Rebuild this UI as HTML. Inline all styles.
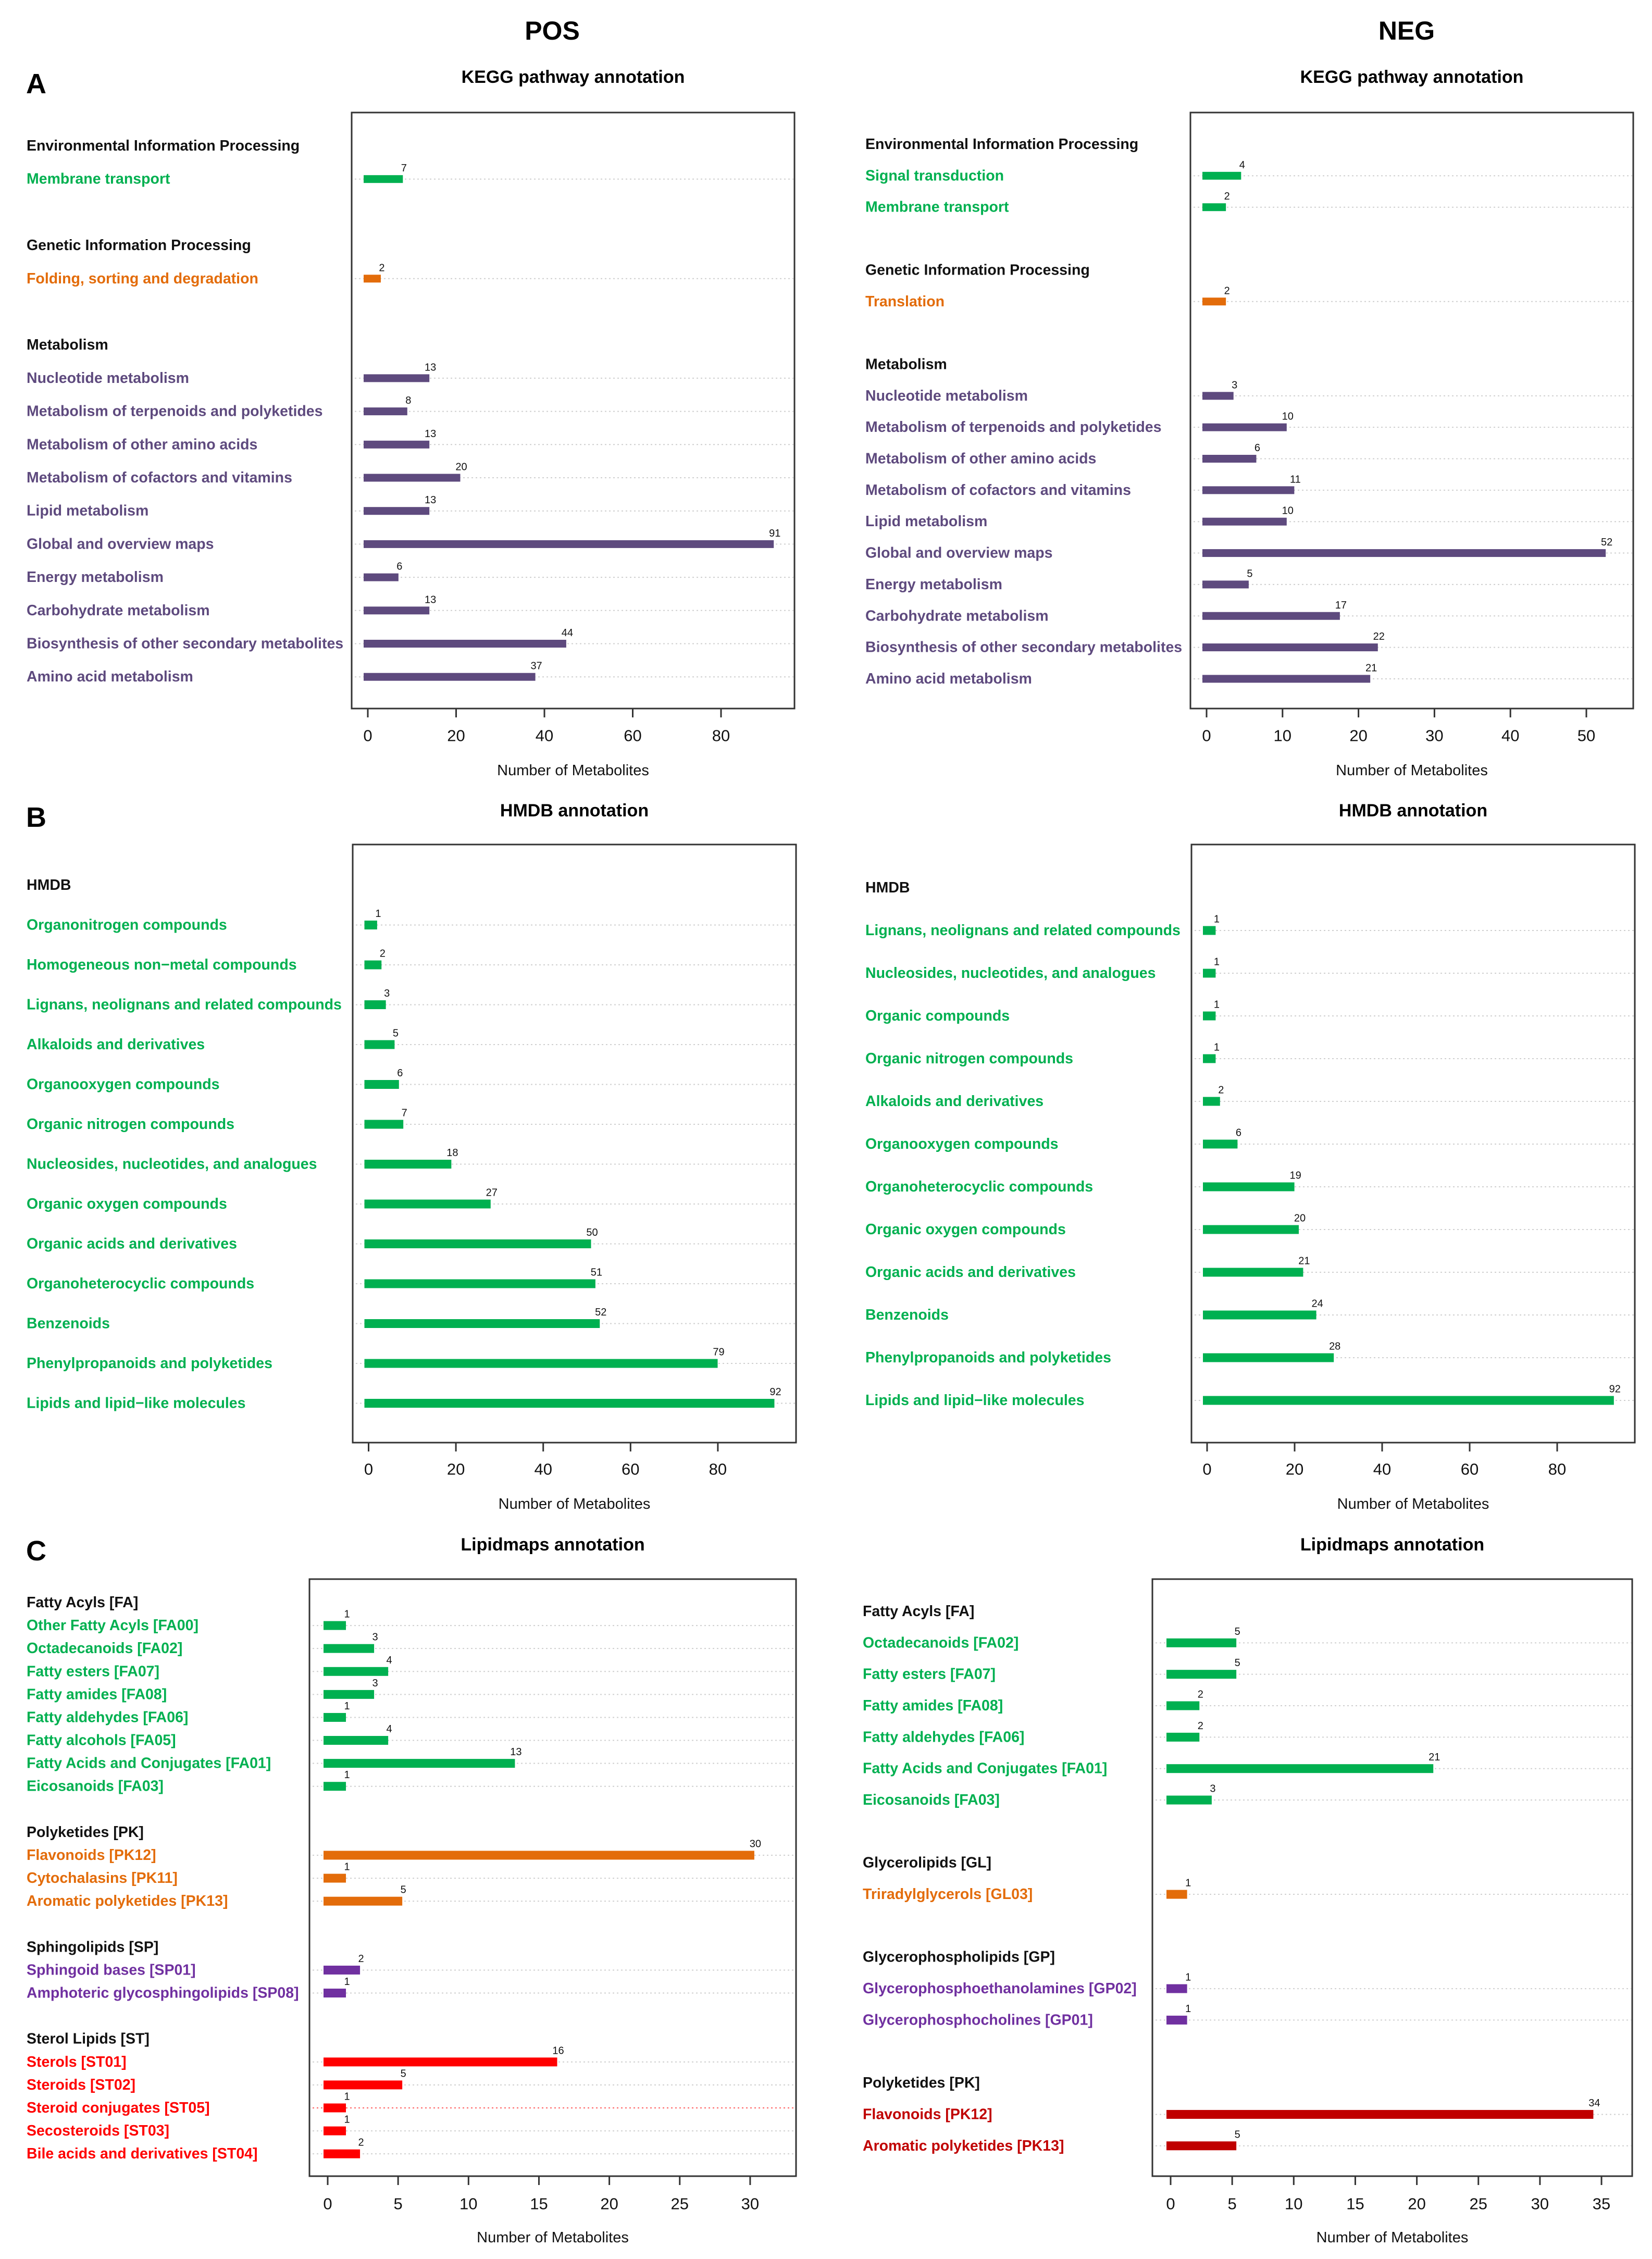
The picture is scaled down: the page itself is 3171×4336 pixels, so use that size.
<!DOCTYPE html>
<html><head><meta charset="utf-8"><style>
html,body{margin:0;padding:0;background:#fff;}
svg{display:block;font-family:"Liberation Sans",Arial,sans-serif;}
</style></head><body>
<svg id="fig" width="3171" height="4336" viewBox="0 0 3171 4336" xmlns="http://www.w3.org/2000/svg">
<rect width="3171" height="4336" fill="#fff"/>
<text x="1060" y="59" font-size="50" font-weight="bold" text-anchor="middle" dominant-baseline="central">POS</text>
<text x="2700" y="59" font-size="50" font-weight="bold" text-anchor="middle" dominant-baseline="central">NEG</text>
<text x="50" y="161" font-size="54" font-weight="bold" dominant-baseline="central">A</text>
<text x="50" y="1569" font-size="54" font-weight="bold" dominant-baseline="central">B</text>
<text x="50" y="2977" font-size="54" font-weight="bold" dominant-baseline="central">C</text>
<g id="charts"></g>
</svg>
<script>
// ---- data (H = group header, B = blank spacer, colour key otherwise) ----
const posKeggCategories = ["Environmental Information Processing","Membrane transport","","Genetic Information Processing","Folding, sorting and degradation","","Metabolism","Nucleotide metabolism","Metabolism of terpenoids and polyketides","Metabolism of other amino acids","Metabolism of cofactors and vitamins","Lipid metabolism","Global and overview maps","Energy metabolism","Carbohydrate metabolism","Biosynthesis of other secondary metabolites","Amino acid metabolism"];
const posKeggValues = [null,7,null,null,2,null,null,13,8,13,20,13,91,6,13,44,37];
const posKeggKinds = ["H","g","B","H","o","B","H","p","p","p","p","p","p","p","p","p","p"];
const posKeggTicks = [0,20,40,60,80];

const negKeggCategories = ["Environmental Information Processing","Signal transduction","Membrane transport","","Genetic Information Processing","Translation","","Metabolism","Nucleotide metabolism","Metabolism of terpenoids and polyketides","Metabolism of other amino acids","Metabolism of cofactors and vitamins","Lipid metabolism","Global and overview maps","Energy metabolism","Carbohydrate metabolism","Biosynthesis of other secondary metabolites","Amino acid metabolism"];
const negKeggValues = [null,4,2,null,null,2,null,null,3,10,6,11,10,52,5,17,22,21];
const negKeggKinds = ["H","g","g","B","H","o","B","H","p","p","p","p","p","p","p","p","p","p"];
const negKeggTicks = [0,10,20,30,40,50];

const posHmdbCategories = ["HMDB","Organonitrogen compounds","Homogeneous non\u2212metal compounds","Lignans, neolignans and related compounds","Alkaloids and derivatives","Organooxygen compounds","Organic nitrogen compounds","Nucleosides, nucleotides, and analogues","Organic oxygen compounds","Organic acids and derivatives","Organoheterocyclic compounds","Benzenoids","Phenylpropanoids and polyketides","Lipids and lipid\u2212like molecules"];
const posHmdbValues = [null,1,2,3,5,6,7,18,27,50,51,52,79,92];
const posHmdbKinds = ["H","g","g","g","g","g","g","g","g","g","g","g","g","g"];
const posHmdbTicks = [0,20,40,60,80];

const negHmdbCategories = ["HMDB","Lignans, neolignans and related compounds","Nucleosides, nucleotides, and analogues","Organic compounds","Organic nitrogen compounds","Alkaloids and derivatives","Organooxygen compounds","Organoheterocyclic compounds","Organic oxygen compounds","Organic acids and derivatives","Benzenoids","Phenylpropanoids and polyketides","Lipids and lipid\u2212like molecules"];
const negHmdbValues = [null,1,1,1,1,2,6,19,20,21,24,28,92];
const negHmdbKinds = ["H","g","g","g","g","g","g","g","g","g","g","g","g"];
const negHmdbTicks = [0,20,40,60,80];

const posLipidCategories = ["Fatty Acyls [FA]","Other Fatty Acyls [FA00]","Octadecanoids [FA02]","Fatty esters [FA07]","Fatty amides [FA08]","Fatty aldehydes [FA06]","Fatty alcohols [FA05]","Fatty Acids and Conjugates [FA01]","Eicosanoids [FA03]","","Polyketides [PK]","Flavonoids [PK12]","Cytochalasins [PK11]","Aromatic polyketides [PK13]","","Sphingolipids [SP]","Sphingoid bases [SP01]","Amphoteric glycosphingolipids [SP08]","","Sterol Lipids [ST]","Sterols [ST01]","Steroids [ST02]","Steroid conjugates [ST05]","Secosteroids [ST03]","Bile acids and derivatives [ST04]"];
const posLipidValues = [null,1,3,4,3,1,4,13,1,null,null,30,1,5,null,null,2,1,null,null,16,5,1,1,2];
const posLipidKinds = ["H","g","g","g","g","g","g","g","g","B","H","o","o","o","B","H","v","v","B","H","r","r","r","r","r"];
const posLipidTicks = [0,5,10,15,20,25,30];

const negLipidCategories = ["Fatty Acyls [FA]","Octadecanoids [FA02]","Fatty esters [FA07]","Fatty amides [FA08]","Fatty aldehydes [FA06]","Fatty Acids and Conjugates [FA01]","Eicosanoids [FA03]","","Glycerolipids [GL]","Triradylglycerols [GL03]","","Glycerophospholipids [GP]","Glycerophosphoethanolamines [GP02]","Glycerophosphocholines [GP01]","","Polyketides [PK]","Flavonoids [PK12]","Aromatic polyketides [PK13]"];
const negLipidValues = [null,5,5,2,2,21,3,null,null,1,null,null,1,1,null,null,34,5];
const negLipidKinds = ["H","g","g","g","g","g","g","B","H","o","B","H","v","v","B","H","d","d"];
const negLipidTicks = [0,5,10,15,20,25,30,35];

const colors = {g:"#00B050",o:"#E36C0A",p:"#5E4A7E",v:"#7030A0",r:"#FF0000",d:"#C00000"};
const NS = "http://www.w3.org/2000/svg";
const root = document.getElementById("charts");

function mk(tag, attrs, parent, text){
  const e = document.createElementNS(NS, tag);
  for (const k in attrs) e.setAttribute(k, attrs[k]);
  if (text !== undefined) e.textContent = text;
  parent.appendChild(e);
  return e;
}

function chart(id, title, cats, vals, kinds, ticks, L){
  const g = mk("g", {}, root);
  
  
  const cx = (L.x1 + L.x2) / 2;
  const sx = v => L.x0 + v * L.ppu;
  const sy = i => L.y0 + i * L.step;
  const t = mk("text", {x: cx, y: L.titleY, "font-size": 34, "font-weight": "bold", "text-anchor": "middle", "dominant-baseline": "central"}, g, title);
  
  
  cats.forEach((c, i) => {
    const k = kinds[i];
    if (k === "B") return;
    const y = sy(i);
    const lab = mk("text", {x: L.lx, y: y, "font-size": 28.5, "font-weight": "bold", fill: k === "H" ? "#111" : colors[k], "dominant-baseline": "central"}, g, c);
    
    
    if (k === "H") return;
    const grid = mk("line", {x1: L.x1 + 6, x2: L.x2 - 2, y1: y, y2: y, stroke: (id === "pos-lipid" && i === 22) ? "#FF6060" : "#cfcfcf", "stroke-width": 2, "stroke-dasharray": "3,5"}, g);
    
    
    const v = vals[i];
    const xs = sx(0) - 8, xe = sx(v) + 8;
    const bar = mk("rect", {x: xs, y: y - L.bh / 2, width: xe - xs, height: L.bh, fill: colors[k]}, g);
    
    
    const vl = mk("text", {x: xe + 2, y: y - L.bh / 2 - 7, "font-size": 20, "text-anchor": "middle", fill: "#111"}, g, String(v));
    
    
  });
  const box = mk("rect", {x: L.x1, y: L.y1, width: L.x2 - L.x1, height: L.y2 - L.y1, fill: "none", stroke: "#333", "stroke-width": 3}, g);
  
  
  ticks.forEach(tv => {
    const x = sx(tv);
    const tk = mk("line", {x1: x, x2: x, y1: L.y2, y2: L.y2 + 17, stroke: "#333", "stroke-width": 3}, g);
    
    
    const tl = mk("text", {x: x, y: L.tickY, "font-size": 31, "text-anchor": "middle", "dominant-baseline": "central", fill: "#111"}, g, String(tv));
    
    
  });
  const xl = mk("text", {x: cx, y: L.xlabY, "font-size": 29, "text-anchor": "middle", "dominant-baseline": "central", fill: "#111"}, g, "Number of Metabolites");
  
  
}

chart("pos-kegg", "KEGG pathway annotation", posKeggCategories, posKeggValues, posKeggKinds, posKeggTicks,
  {x1:675, x2:1525, y1:216, y2:1360, x0:706, ppu:8.475, y0:280, step:63.7, lx:51, bh:15, titleY:148, tickY:1412, xlabY:1479});
chart("neg-kegg", "KEGG pathway annotation", negKeggCategories, negKeggValues, negKeggKinds, negKeggTicks,
  {x1:2285, x2:3135, y1:216, y2:1360, x0:2316, ppu:14.58, y0:277, step:60.35, lx:1661, bh:15, titleY:148, tickY:1412, xlabY:1479});
chart("pos-hmdb", "HMDB annotation", posHmdbCategories, posHmdbValues, posHmdbKinds, posHmdbTicks,
  {x1:677, x2:1528, y1:1621, y2:2769, x0:707.5, ppu:8.38, y0:1699, step:76.5, lx:51, bh:17, titleY:1556, tickY:2820, xlabY:2887});
chart("neg-hmdb", "HMDB annotation", negHmdbCategories, negHmdbValues, negHmdbKinds, negHmdbTicks,
  {x1:2287, x2:3138, y1:1621, y2:2769, x0:2317, ppu:8.4, y0:1704, step:82.0, lx:1661, bh:17, titleY:1556, tickY:2820, xlabY:2887});
chart("pos-lipid", "Lipidmaps annotation", posLipidCategories, posLipidValues, posLipidKinds, posLipidTicks,
  {x1:594, x2:1528, y1:3031, y2:4177, x0:629, ppu:27.03, y0:3076, step:44.09, lx:51, bh:17, titleY:2965, tickY:4230, xlabY:4295});
chart("neg-lipid", "Lipidmaps annotation", negLipidCategories, negLipidValues, negLipidKinds, negLipidTicks,
  {x1:2212, x2:3133, y1:3031, y2:4177, x0:2247, ppu:23.63, y0:3093, step:60.34, lx:1656, bh:17, titleY:2965, tickY:4230, xlabY:4295});
</script>
</body></html>
